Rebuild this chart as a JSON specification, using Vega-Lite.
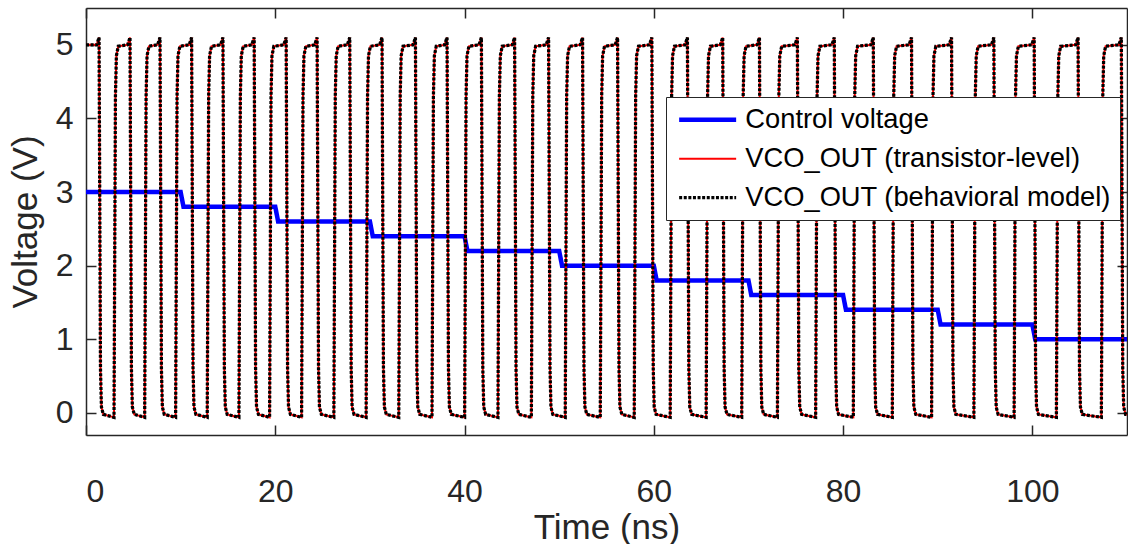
{
  "$schema": "https://vega.github.io/schema/vega-lite/v6.json",
  "width": 1041,
  "height": 427,
  "autosize": {"type": "none"},
  "padding": {"left": 86, "top": 8, "right": 1, "bottom": 109},
  "background": "white",
  "config": {
    "view": {"stroke": null},
    "font": "Liberation Sans",
    "axis": {
      "grid": false,
      "domainColor": "#262626",
      "domainWidth": 1.5,
      "tickColor": "#262626",
      "tickWidth": 1.5,
      "tickSize": -10,
      "labelColor": "#262626",
      "titleColor": "#262626",
      "labelFont": "Liberation Sans",
      "titleFont": "Liberation Sans",
      "labelFontSize": 32,
      "titleFontSize": 35,
      "titleFontWeight": "normal"
    },
    "legend": {
      "orient": "none",
      "legendX": 580,
      "legendY": 89,
      "title": null,
      "strokeColor": "#262626",
      "fillColor": "white",
      "padding": 9,
      "labelFont": "Liberation Sans",
      "labelFontSize": 27.3,
      "labelColor": "#000000",
      "labelLimit": 600,
      "symbolType": "M-1,0H5",
      "symbolSize": 361,
      "labelOffset": 43,
      "rowPadding": 11,
      "cornerRadius": 0
    }
  },
  "datasets": {
    "ctrl": [
      {"t": 0, "v": 3.0}, {"t": 10, "v": 3.0}, {"t": 10.3, "v": 2.8}, {"t": 20, "v": 2.8}, {"t": 20.3, "v": 2.6},
      {"t": 30, "v": 2.6}, {"t": 30.3, "v": 2.4}, {"t": 40, "v": 2.4}, {"t": 40.3, "v": 2.2}, {"t": 50, "v": 2.2},
      {"t": 50.3, "v": 2.0}, {"t": 60, "v": 2.0}, {"t": 60.3, "v": 1.8}, {"t": 70, "v": 1.8}, {"t": 70.3, "v": 1.6},
      {"t": 80, "v": 1.6}, {"t": 80.3, "v": 1.4}, {"t": 90, "v": 1.4}, {"t": 90.3, "v": 1.2}, {"t": 100, "v": 1.2},
      {"t": 100.3, "v": 1.0}, {"t": 110, "v": 1.0}
    ],
    "vco": [
      {"t":0,"v":5.0},
      {"t":1.13,"v":5.0},{"t":1.38,"v":5.1},{"t":1.53,"v":0.6},{"t":1.63,"v":0.08},{"t":1.83,"v":-0.02},
      {"t":2.96,"v":-0.06},{"t":3.11,"v":4.3},{"t":3.21,"v":4.85},{"t":3.41,"v":4.98},
      {"t":4.40,"v":5.0},{"t":4.65,"v":5.1},{"t":4.80,"v":0.6},{"t":4.90,"v":0.08},{"t":5.10,"v":-0.02},
      {"t":6.20,"v":-0.06},{"t":6.35,"v":4.3},{"t":6.45,"v":4.85},{"t":6.65,"v":4.98},
      {"t":7.57,"v":5.0},{"t":7.82,"v":5.1},{"t":7.97,"v":0.6},{"t":8.07,"v":0.08},{"t":8.27,"v":-0.02},
      {"t":9.47,"v":-0.06},{"t":9.62,"v":4.3},{"t":9.72,"v":4.85},{"t":9.92,"v":4.98},
      {"t":10.91,"v":5.0},{"t":11.16,"v":5.1},{"t":11.31,"v":0.6},{"t":11.41,"v":0.08},{"t":11.61,"v":-0.02},
      {"t":12.81,"v":-0.06},{"t":12.96,"v":4.3},{"t":13.06,"v":4.85},{"t":13.26,"v":4.98},
      {"t":14.22,"v":5.0},{"t":14.47,"v":5.1},{"t":14.62,"v":0.6},{"t":14.72,"v":0.08},{"t":14.92,"v":-0.02},
      {"t":16.16,"v":-0.06},{"t":16.31,"v":4.3},{"t":16.41,"v":4.85},{"t":16.61,"v":4.98},
      {"t":17.52,"v":5.0},{"t":17.77,"v":5.1},{"t":17.92,"v":0.6},{"t":18.02,"v":0.08},{"t":18.22,"v":-0.02},
      {"t":19.40,"v":-0.06},{"t":19.55,"v":4.3},{"t":19.65,"v":4.85},{"t":19.85,"v":4.98},
      {"t":20.90,"v":5.0},{"t":21.15,"v":5.1},{"t":21.30,"v":0.6},{"t":21.40,"v":0.08},{"t":21.60,"v":-0.02},
      {"t":22.78,"v":-0.06},{"t":22.93,"v":4.3},{"t":23.03,"v":4.85},{"t":23.23,"v":4.98},
      {"t":24.17,"v":5.0},{"t":24.42,"v":5.1},{"t":24.57,"v":0.6},{"t":24.67,"v":0.08},{"t":24.87,"v":-0.02},
      {"t":26.19,"v":-0.06},{"t":26.34,"v":4.3},{"t":26.44,"v":4.85},{"t":26.64,"v":4.98},
      {"t":27.62,"v":5.0},{"t":27.87,"v":5.1},{"t":28.02,"v":0.6},{"t":28.12,"v":0.08},{"t":28.32,"v":-0.02},
      {"t":29.60,"v":-0.06},{"t":29.75,"v":4.3},{"t":29.85,"v":4.85},{"t":30.05,"v":4.98},
      {"t":31.03,"v":5.0},{"t":31.28,"v":5.1},{"t":31.43,"v":0.6},{"t":31.53,"v":0.08},{"t":31.73,"v":-0.02},
      {"t":33.05,"v":-0.06},{"t":33.20,"v":4.3},{"t":33.30,"v":4.85},{"t":33.50,"v":4.98},
      {"t":34.56,"v":5.0},{"t":34.81,"v":5.1},{"t":34.96,"v":0.6},{"t":35.06,"v":0.08},{"t":35.26,"v":-0.02},
      {"t":36.56,"v":-0.06},{"t":36.71,"v":4.3},{"t":36.81,"v":4.85},{"t":37.01,"v":4.98},
      {"t":37.90,"v":5.0},{"t":38.15,"v":5.1},{"t":38.30,"v":0.6},{"t":38.40,"v":0.08},{"t":38.60,"v":-0.02},
      {"t":40.01,"v":-0.06},{"t":40.16,"v":4.3},{"t":40.26,"v":4.85},{"t":40.46,"v":4.98},
      {"t":41.53,"v":5.0},{"t":41.78,"v":5.1},{"t":41.93,"v":0.6},{"t":42.03,"v":0.08},{"t":42.23,"v":-0.02},
      {"t":43.53,"v":-0.06},{"t":43.68,"v":4.3},{"t":43.78,"v":4.85},{"t":43.98,"v":4.98},
      {"t":45.04,"v":5.0},{"t":45.29,"v":5.1},{"t":45.44,"v":0.6},{"t":45.54,"v":0.08},{"t":45.74,"v":-0.02},
      {"t":47.06,"v":-0.06},{"t":47.21,"v":4.3},{"t":47.31,"v":4.85},{"t":47.51,"v":4.98},
      {"t":48.63,"v":5.0},{"t":48.88,"v":5.1},{"t":49.03,"v":0.6},{"t":49.13,"v":0.08},{"t":49.33,"v":-0.02},
      {"t":50.64,"v":-0.06},{"t":50.79,"v":4.3},{"t":50.89,"v":4.85},{"t":51.09,"v":4.98},
      {"t":52.22,"v":5.0},{"t":52.47,"v":5.1},{"t":52.62,"v":0.6},{"t":52.72,"v":0.08},{"t":52.92,"v":-0.02},
      {"t":54.34,"v":-0.06},{"t":54.49,"v":4.3},{"t":54.59,"v":4.85},{"t":54.79,"v":4.98},
      {"t":55.92,"v":5.0},{"t":56.17,"v":5.1},{"t":56.32,"v":0.6},{"t":56.42,"v":0.08},{"t":56.62,"v":-0.02},
      {"t":57.93,"v":-0.06},{"t":58.08,"v":4.3},{"t":58.18,"v":4.85},{"t":58.38,"v":4.98},
      {"t":59.54,"v":5.0},{"t":59.79,"v":5.1},{"t":59.94,"v":0.6},{"t":60.04,"v":0.08},{"t":60.24,"v":-0.02},
      {"t":61.73,"v":-0.06},{"t":61.88,"v":4.3},{"t":61.98,"v":4.85},{"t":62.18,"v":4.98},
      {"t":63.30,"v":5.0},{"t":63.55,"v":5.1},{"t":63.70,"v":0.6},{"t":63.80,"v":0.08},{"t":64.00,"v":-0.02},
      {"t":65.53,"v":-0.06},{"t":65.68,"v":4.3},{"t":65.78,"v":4.85},{"t":65.98,"v":4.98},
      {"t":67.03,"v":5.0},{"t":67.28,"v":5.1},{"t":67.43,"v":0.6},{"t":67.53,"v":0.08},{"t":67.73,"v":-0.02},
      {"t":69.29,"v":-0.06},{"t":69.44,"v":4.3},{"t":69.54,"v":4.85},{"t":69.74,"v":4.98},
      {"t":70.91,"v":5.0},{"t":71.16,"v":5.1},{"t":71.31,"v":0.6},{"t":71.41,"v":0.08},{"t":71.61,"v":-0.02},
      {"t":73.06,"v":-0.06},{"t":73.21,"v":4.3},{"t":73.31,"v":4.85},{"t":73.51,"v":4.98},
      {"t":74.92,"v":5.0},{"t":75.17,"v":5.1},{"t":75.32,"v":0.6},{"t":75.42,"v":0.08},{"t":75.62,"v":-0.02},
      {"t":77.10,"v":-0.06},{"t":77.25,"v":4.3},{"t":77.35,"v":4.85},{"t":77.55,"v":4.98},
      {"t":78.82,"v":5.0},{"t":79.07,"v":5.1},{"t":79.22,"v":0.6},{"t":79.32,"v":0.08},{"t":79.52,"v":-0.02},
      {"t":81.08,"v":-0.06},{"t":81.23,"v":4.3},{"t":81.33,"v":4.85},{"t":81.53,"v":4.98},
      {"t":82.94,"v":5.0},{"t":83.19,"v":5.1},{"t":83.34,"v":0.6},{"t":83.44,"v":0.08},{"t":83.64,"v":-0.02},
      {"t":85.20,"v":-0.06},{"t":85.35,"v":4.3},{"t":85.45,"v":4.85},{"t":85.65,"v":4.98},
      {"t":86.98,"v":5.0},{"t":87.23,"v":5.1},{"t":87.38,"v":0.6},{"t":87.48,"v":0.08},{"t":87.68,"v":-0.02},
      {"t":89.35,"v":-0.06},{"t":89.50,"v":4.3},{"t":89.60,"v":4.85},{"t":89.80,"v":4.98},
      {"t":91.21,"v":5.0},{"t":91.46,"v":5.1},{"t":91.61,"v":0.6},{"t":91.71,"v":0.08},{"t":91.91,"v":-0.02},
      {"t":93.82,"v":-0.06},{"t":93.97,"v":4.3},{"t":94.07,"v":4.85},{"t":94.27,"v":4.98},
      {"t":95.68,"v":5.0},{"t":95.93,"v":5.1},{"t":96.08,"v":0.6},{"t":96.18,"v":0.08},{"t":96.38,"v":-0.02},
      {"t":98.07,"v":-0.06},{"t":98.22,"v":4.3},{"t":98.32,"v":4.85},{"t":98.52,"v":4.98},
      {"t":99.94,"v":5.0},{"t":100.19,"v":5.1},{"t":100.34,"v":0.6},{"t":100.44,"v":0.08},{"t":100.64,"v":-0.02},
      {"t":102.54,"v":-0.06},{"t":102.69,"v":4.3},{"t":102.79,"v":4.85},{"t":102.99,"v":4.98},
      {"t":104.58,"v":5.0},{"t":104.83,"v":5.1},{"t":104.98,"v":0.6},{"t":105.08,"v":0.08},{"t":105.28,"v":-0.02},
      {"t":107.29,"v":-0.06},{"t":107.44,"v":4.3},{"t":107.54,"v":4.85},{"t":107.74,"v":4.98},
      {"t":109.15,"v":5.0},{"t":109.40,"v":5.1},{"t":109.55,"v":0.6},{"t":109.65,"v":0.08},{"t":109.85,"v":-0.02},
      {"t":110,"v":-0.02}
    ]
  },
  "resolve": {"axis": {"x": "independent", "y": "independent"}},
  "layer": [
    {
      "data": {"name": "ctrl"},
      "mark": {"type": "line", "clip": true},
      "encoding": {
        "x": {"field": "t", "type": "quantitative", "scale": {"domain": [0, 110], "nice": false, "zero": false},
              "axis": {"orient": "bottom", "values": [0, 20, 40, 60, 80, 100], "title": "Time (ns)", "labelPadding": 51, "titlePadding": 3}},
        "y": {"field": "v", "type": "quantitative", "scale": {"domain": [-0.3, 5.5], "nice": false, "zero": false},
              "axis": {"orient": "left", "values": [0, 1, 2, 3, 4, 5], "title": "Voltage (V)", "labelPadding": 23, "titlePadding": 12}},
        "color": {"datum": "Control voltage", "type": "nominal",
                  "scale": {"domain": ["Control voltage", "VCO_OUT (behavioral model)", "VCO_OUT (transistor-level)"], "range": ["#0000ff", "#000000", "#ff0000"]},
                  "legend": {"values": ["Control voltage", "VCO_OUT (transistor-level)", "VCO_OUT (behavioral model)"]}},
        "strokeDash": {"datum": "Control voltage", "type": "nominal",
                  "scale": {"domain": ["Control voltage", "VCO_OUT (behavioral model)", "VCO_OUT (transistor-level)"], "range": [[1, 0], [3, 1.6], [1, 0]]}},
        "strokeWidth": {"datum": "Control voltage", "type": "ordinal",
                  "scale": {"domain": ["Control voltage", "VCO_OUT (behavioral model)", "VCO_OUT (transistor-level)"], "range": [4.5, 2]}}
      }
    },
    {
      "data": {"name": "vco"},
      "mark": {"type": "line", "clip": true},
      "encoding": {
        "x": {"field": "t", "type": "quantitative", "axis": null},
        "y": {"field": "v", "type": "quantitative", "axis": null},
        "color": {"datum": "VCO_OUT (transistor-level)", "type": "nominal"},
        "strokeDash": {"datum": "VCO_OUT (transistor-level)", "type": "nominal"},
        "strokeWidth": {"datum": "VCO_OUT (transistor-level)", "type": "ordinal"}
      }
    },
    {
      "data": {"name": "vco"},
      "mark": {"type": "line", "clip": true},
      "encoding": {
        "x": {"field": "t", "type": "quantitative",
              "axis": {"orient": "top", "values": [0, 20, 40, 60, 80, 100], "labels": false, "title": null}},
        "y": {"field": "v", "type": "quantitative",
              "axis": {"orient": "right", "values": [0, 1, 2, 3, 4, 5], "labels": false, "title": null}},
        "color": {"datum": "VCO_OUT (behavioral model)", "type": "nominal"},
        "strokeDash": {"datum": "VCO_OUT (behavioral model)", "type": "nominal"},
        "strokeWidth": {"datum": "VCO_OUT (behavioral model)", "type": "ordinal"}
      }
    }
  ]
}
